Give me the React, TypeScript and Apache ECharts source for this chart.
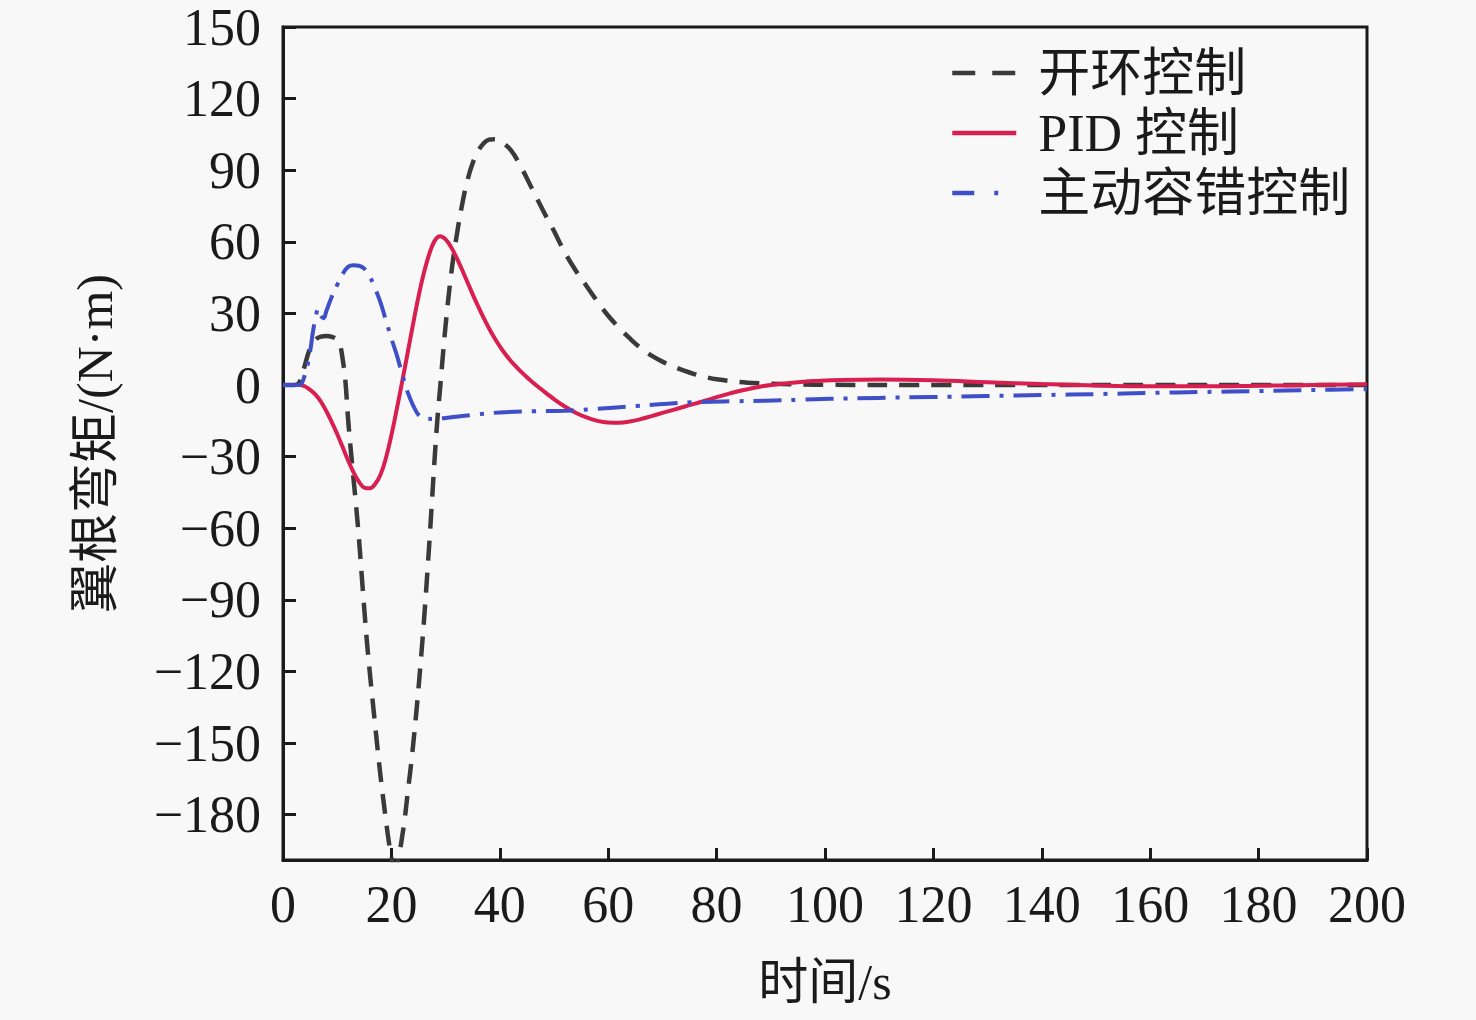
import React, { useEffect, useRef } from "react";
import * as echarts from "echarts";

const xTicks = [0, 20, 40, 60, 80, 100, 120, 140, 160, 180, 200];
const yTicks = [-180, -150, -120, -90, -60, -30, 0, 30, 60, 90, 120, 150];

const seriesNames = ["开环控制", "PID 控制", "主动容错控制"];

const openLoopT = [0, 1, 2, 3, 4, 5, 6, 7, 8, 9, 10, 10.5, 11, 11.5, 12, 12.5, 13, 13.5, 14, 14.5, 15, 15.5, 16, 16.5, 17, 17.5, 18, 18.5, 19, 19.5, 20, 20.5, 21, 21.5, 22, 22.5, 23, 23.5, 24, 24.5, 25, 25.5, 26, 26.5, 27, 27.5, 28, 28.5, 29, 29.5, 30, 31, 32, 33, 34, 35, 36, 37, 38, 39, 40, 42, 44, 46, 48, 50, 52, 54, 56, 58, 60, 62, 64, 66, 68, 70, 72, 74, 76, 78, 80, 84, 88, 92, 96, 100, 120, 140, 160, 180, 200];
const openLoopV = [0, 0, 0, 1, 8, 15.5, 19, 20.3, 20.5, 20.2, 19, 17, 11, 2, -14, -27, -39, -51, -64, -79, -94, -108, -120, -131.5, -142.5, -153.5, -164, -173.5, -182.5, -191, -198, -202, -201, -196, -189, -181, -171, -161.5, -151, -139.5, -127, -113.5, -99, -83, -66, -48, -30, -14, -1, 12.5, 25, 46, 62, 75, 85.5, 93, 98, 101.2, 102.8, 103, 102.3, 98.5, 91, 82, 73, 64.5, 55.5, 48, 41.5, 35, 29, 24, 19.5, 15.5, 12.3, 9.8, 7.8, 6, 4.5, 3.3, 2.4, 1.3, 0.7, 0.4, 0.2, 0.1, 0, 0, 0, 0, 0];

const pidT = [0, 1, 2, 3, 4, 5, 6, 7, 8, 9, 10, 11, 12, 13, 14, 15, 16, 17, 18, 19, 20, 21, 22, 23, 24, 25, 26, 27, 28, 29, 30, 31, 32, 33, 34, 35, 36, 37, 38, 39, 40, 41, 42, 43, 44, 45, 46, 47, 48, 49, 50, 52, 54, 56, 58, 60, 62, 64, 66, 68, 70, 72, 74, 76, 78, 80, 82, 84, 86, 88, 90, 92, 94, 96, 98, 100, 110, 120, 130, 140, 150, 160, 170, 180, 190, 200];
const pidV = [0, 0, 0, 0, -0.5, -2, -4, -7, -11, -15.5, -20.5, -26, -31.5, -36.5, -40.5, -43, -43.3, -41.5, -37.5, -30.5, -21, -10, 1.5, 13.5, 25.5, 37, 47, 55, 60.5, 62.3, 61, 57.8, 53.5, 48.5, 43.3, 38, 33, 28.2, 23.8, 19.8, 16.2, 13, 10.2, 7.7, 5.4, 3.3, 1.3, -0.6, -2.4, -4.2, -5.9, -9, -11.6, -13.6, -15, -15.7, -15.8, -15.3, -14.3, -13, -11.7, -10.4, -9.1, -7.8, -6.5, -5.1, -3.8, -2.6, -1.6, -0.7, 0, 0.5, 1, 1.4, 1.7, 1.9, 2.3, 2, 1.2, 0.4, -0.2, -0.5, -0.5, -0.3, 0, 0.3];

const ftcT = [0, 1, 2, 3, 4, 5, 5.5, 6, 6.5, 7, 7.5, 8, 9, 10, 11, 12, 13, 14, 15, 16, 17, 18, 19, 20, 21, 22, 23, 24, 25, 26, 28, 30, 35, 40, 46, 52, 58, 65, 71, 77, 83, 89, 95, 101, 110, 120, 130, 140, 150, 160, 170, 180, 190, 200];
const ftcV = [0, 0, 0, 0, 4, 14, 22, 28, 32, 29, 28, 31, 37, 42, 46.5, 49.5, 50.2, 50, 48.8, 45.5, 40.5, 34.5, 27, 19.5, 12.5, 4.5, -3, -8.5, -12.5, -14, -14.2, -13.8, -12.5, -11.5, -11, -10.8, -10, -8.8, -7.8, -7.1, -6.8, -6.6, -6.2, -5.8, -5.4, -5, -4.6, -4.2, -3.8, -3.3, -2.9, -2.5, -2.1, -1.7];

const pair = (t: number[], v: number[]) => t.map((x, i) => [x, v[i]]);

const FONT = "'Liberation Serif', 'Noto Sans CJK SC', serif";
const INK = "#1a1a1a";
const GRAY = "#3a3a3a";
const RED = "#d91f4f";
const BLUE = "#3f4fc8";

export default function App() {
  const ref = useRef<HTMLDivElement>(null);
  useEffect(() => {
    if (!ref.current) return;
    const chart = echarts.init(ref.current, undefined, { renderer: "svg" });
    const fmt = (v: number) => (v < 0 ? "\u2212" + Math.abs(v) : String(v));
    chart.setOption({
      animation: false,
      backgroundColor: "#f8f8f8",
      textStyle: { fontFamily: FONT },
      grid: {
        left: 283,
        right: 109,
        top: 27,
        bottom: 160,
        show: true,
        borderColor: INK,
        borderWidth: 3,
        backgroundColor: "transparent",
      },
      legend: {
        orient: "vertical",
        left: 945,
        top: 42,
        itemWidth: 64,
        itemHeight: 14,
        itemGap: 8,
        itemStyle: { opacity: 0 },
        textStyle: {
          fontFamily: FONT,
          fontSize: 52,
          lineHeight: 52,
          color: INK,
          padding: [0, 0, 0, 17],
        },
        data: [
          { name: seriesNames[0], itemStyle: { opacity: 0 }, lineStyle: { type: [23, 17], width: 4.5, color: GRAY } },
          { name: seriesNames[1], itemStyle: { opacity: 0 }, lineStyle: { width: 4.5, color: RED } },
          { name: seriesNames[2], itemStyle: { opacity: 0 }, lineStyle: { type: [22, 20, 4, 30], width: 4.5, color: BLUE } },
        ],
      },
      xAxis: {
        type: "value",
        min: 0,
        max: 200,
        interval: 20,
        name: "时间/s",
        nameLocation: "middle",
        nameGap: 97,
        nameTextStyle: { fontFamily: FONT, fontSize: 50, color: INK },
        axisLine: { show: true, onZero: false, lineStyle: { color: INK, width: 3 } },
        axisTick: { show: true, inside: true, length: 12, lineStyle: { color: INK, width: 3 } },
        axisLabel: {
          fontFamily: FONT,
          fontSize: 52,
          color: INK,
          margin: 18,
          customValues: xTicks,
        },
        splitLine: { show: false },
      },
      yAxis: {
        type: "value",
        min: -199,
        max: 150,
        name: "翼根弯矩/(N·m)",
        nameLocation: "middle",
        nameRotate: 90,
        nameGap: 163,
        nameTextStyle: { fontFamily: FONT, fontSize: 50, color: INK },
        axisLine: { show: true, onZero: false, lineStyle: { color: INK, width: 3 } },
        axisTick: {
          show: true,
          inside: true,
          length: 13,
          lineStyle: { color: INK, width: 3 },
          customValues: yTicks,
        },
        axisLabel: {
          fontFamily: FONT,
          fontSize: 52,
          color: INK,
          margin: 22,
          customValues: yTicks,
          formatter: fmt,
        },
        splitLine: { show: false },
      },
      series: [
        {
          name: seriesNames[0],
          type: "line",
          data: pair(openLoopT, openLoopV),
          symbol: "none",
          smooth: 0.4,
          clip: true,
          lineStyle: { color: GRAY, width: 4.5, type: [20, 12] },
          itemStyle: { color: GRAY },
          z: 2,
        },
        {
          name: seriesNames[1],
          type: "line",
          data: pair(pidT, pidV),
          symbol: "none",
          smooth: 0.4,
          clip: true,
          lineStyle: { color: RED, width: 4 },
          itemStyle: { color: RED },
          z: 3,
        },
        {
          name: seriesNames[2],
          type: "line",
          data: pair(ftcT, ftcV),
          symbol: "none",
          smooth: 0.4,
          clip: true,
          lineStyle: { color: BLUE, width: 4, type: [28, 10, 4, 10] },
          itemStyle: { color: BLUE },
          z: 4,
        },
      ],
    });
    return () => chart.dispose();
  }, []);
  return (
    <div
      ref={ref}
      style={{ position: "absolute", left: 0, top: 0, width: 1476, height: 1020, background: "#f8f8f8" }}
    />
  );
}
